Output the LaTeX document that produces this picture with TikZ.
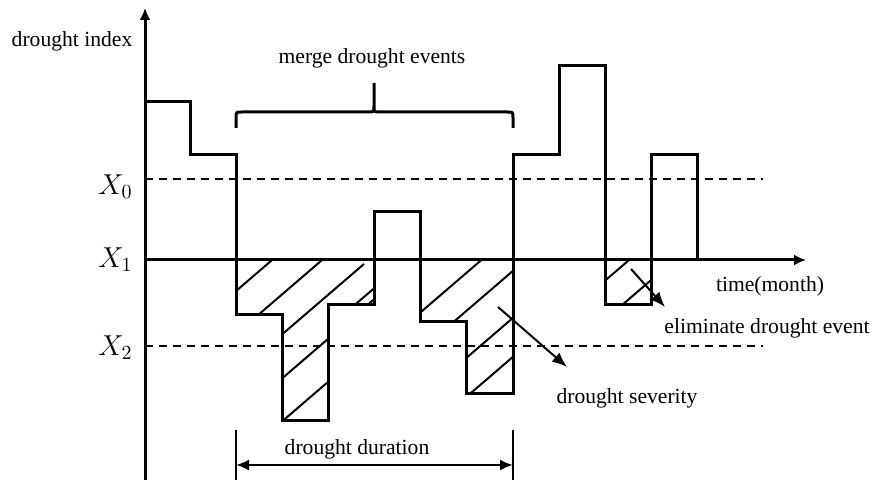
\documentclass[tikz,border=0pt]{standalone}
\usepackage{fontspec}
\setmainfont{Liberation Serif}
\usetikzlibrary{arrows.meta}

\begin{document}
\begin{tikzpicture}[x=0.5pt, y=-0.5pt, font=\fontsize{10.8}{13}\selectfont,
    series/.style={line width=1.5pt, line join=miter},
    hatch/.style={line width=1pt},
    level/.style={line width=1pt, dash pattern=on 4pt off 3pt},
    axis/.style={line width=1.5pt, -{Latex[length=6pt,width=5.5pt]}},
    pointer/.style={line width=1pt, -{Latex[length=7.5pt,width=6pt]}},
    span/.style={line width=1pt, {Latex[length=6.5pt,width=5.5pt]}-{Latex[length=6.5pt,width=5.5pt]}},
    lab/.style={inner sep=0pt},
    xlab/.style={inner sep=0pt, anchor=east, font=\fontsize{14}{16}\selectfont}]
  \useasboundingbox (0,0) rectangle (872,480);

  % Hatched drought areas below X1
  \begin{scope}
    \clip (236,260) -- (374,260) -- (374,305) -- (328,305) -- (328,420)
      -- (282,420) -- (282,315) -- (236,315) -- cycle;
    \foreach \c/\xa/\xb in {494/200/400, 537/200/400, 577/200/364, 610/350/400, 621/200/400, 664/200/400}
      \draw[hatch] (\xa,{\c-0.86*\xa}) -- (\xb,{\c-0.86*\xb});
  \end{scope}
  \begin{scope}
    \clip (420,260) -- (513,260) -- (513,393) -- (466,393) -- (466,322) -- (420,322) -- cycle;
    \foreach \c in {674,712,759,798}
      \draw[hatch] (400,{\c-0.86*400}) -- (540,{\c-0.86*540});
  \end{scope}
  \begin{scope}
    \clip (605,260) rectangle (651,305);
    \foreach \c in {801,840}
      \draw[hatch] (590,{\c-0.86*590}) -- (670,{\c-0.86*670});
  \end{scope}

  % Axes
  \coordinate (O) at (145,260);
  \coordinate (ybot) at (145,480);
  \coordinate (ytop) at (145,8);
  \coordinate (xend) at (806,260);
  \draw[axis] (ybot) -- (ytop);
  \draw[axis] (O) -- (xend);

  % Threshold levels
  \node[xlab] (x0) at (133,187) {$X_0$};
  \node[xlab] (x1) at (133,260) {$X_1$};
  \node[xlab] (x2) at (133,348) {$X_2$};
  \coordinate (l0a) at (145,179);
  \coordinate (l0b) at (763,179);
  \coordinate (l2a) at (145,346);
  \coordinate (l2b) at (763,346);
  \draw[level] (l0a) -- (l0b);
  \draw[level] (l2a) -- (l2b);

  % Drought index series
  \draw[series] (145,102) -| (190,155) -| (236,315) -| (282,420) -| (328,305)
    -| (374,212) -| (420,322) -| (466,393) -| (513,155) -| (559,66)
    -| (605,305) -| (651,155) -| (697,260);

  % Brace over merged events
  \draw[line width=1.5pt] (236,128) -- (236,118) .. controls (236,112) .. (242,112)
    -- (368,112) .. controls (374,112) .. (374,106) -- (374,83)
    (374,106) .. controls (374,112) .. (380,112) -- (507,112)
    .. controls (513,112) .. (513,118) -- (513,128);

  % Duration span
  \coordinate (da) at (236,465);
  \coordinate (db) at (513,465);
  \draw[line width=1pt] (236,430) -- (236,480) (513,430) -- (513,480);
  \draw[span] (da) -- (db);

  % Labels
  \node[lab] (index) at (72,41) {drought index};
  \node[lab] (merge) at (372,58) {merge drought events};
  \node[lab] (time) at (770,286) {time(month)};
  \node[lab] (elim) at (767,328) {eliminate drought event};
  \node[lab] (sev) at (627,398) {drought severity};
  \node[lab] (dur) at (357,449) {drought duration};

  % Pointers
  \coordinate (sevtail) at (498,307);
  \coordinate (sevtip) at (567,367);
  \coordinate (elimtail) at (631,269);
  \coordinate (elimtip) at (665,307);
  \draw[pointer] (sevtail) -- (sevtip);
  \draw[pointer] (elimtail) -- (elimtip);
\end{tikzpicture}
\end{document}
